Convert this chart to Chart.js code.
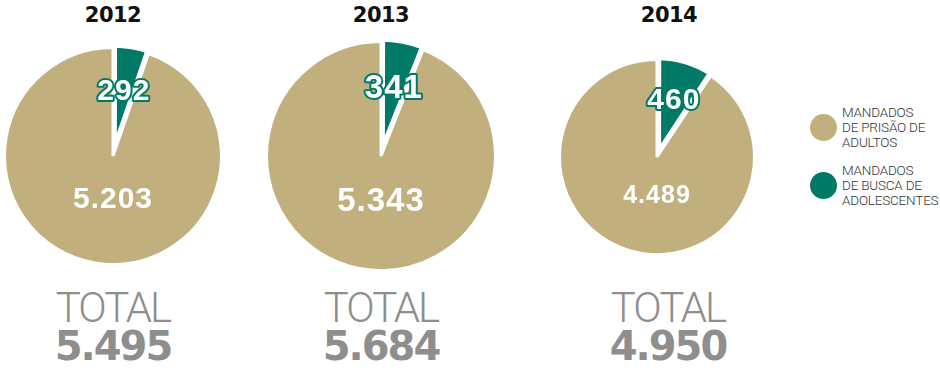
<!DOCTYPE html>
<html>
<head>
<meta charset="utf-8">
<script src="https://cdn.jsdelivr.net/npm/chart.js@4.4.1/dist/chart.umd.min.js"></script>
<style>
  html, body { margin: 0; padding: 0; background: #fff; }
  #wrap { position: relative; width: 940px; height: 371px; overflow: hidden; }
  #wrap canvas { position: absolute; }
  .year { position: absolute; width: 120px; text-align: center; font: bold 21px 'DejaVu Sans', sans-serif; color: #111; letter-spacing: -0.5px; }
  .total { position: absolute; width: 180px; text-align: center; color: #8e8e8e; }
  .total .lbl { font: 300 42px Roboto, sans-serif; letter-spacing: -2px; line-height: 40px; }
  .total .num { font: bold 40px 'DejaVu Sans', sans-serif; letter-spacing: -2px; line-height: 36px; }
  .legend { position: absolute; left: 810px; font: 300 13.5px Roboto, sans-serif; color: #333; line-height: 15px; letter-spacing: -0.2px; }
  .legend .dot { position: absolute; left: 0; width: 27px; height: 27px; border-radius: 50%; }
  .legend .txt { position: absolute; left: 32px; white-space: nowrap; }
</style>
</head>
<body>
<div id="wrap"></div>
<script>
// data
const years = ['2012', '2013', '2014'];
const adultos = [5203, 5343, 4489];        // mandados de prisão de adultos
const adolescentes = [292, 341, 460];      // mandados de busca de adolescentes
const totals = [5495, 5684, 4950];
const seriesNames = ['MANDADOS\nDE BUSCA DE\nADOLESCENTES', 'MANDADOS\nDE PRISÃO DE\nADULTOS'];

// look
const TAN = '#c1af7e';
const TEAL = '#007a67';
const pies = [
  { cx: 113, cy: 155.5, r: 107, tealFont: 30, tanFont: 30, titleX: 113, totalX: 113 },
  { cx: 381, cy: 155.5, r: 113, tealFont: 33, tanFont: 33, titleX: 381, totalX: 381 },
  { cx: 657, cy: 156.5, r: 96, tealFont: 30, tanFont: 25, titleX: 669, totalX: 668 }
];
const SIZE = 250;

function fmt(v) {
  return String(v).replace(/\B(?=(\d{3})+(?!\d))/g, '.');
}

const sliceLabels = {
  id: 'sliceLabels',
  afterDatasetsDraw(chart, args, opts) {
    const ctx = chart.ctx;
    const meta = chart.getDatasetMeta(0);
    const values = chart.data.datasets[0].data;
    meta.data.forEach((arc, i) => {
      const p = arc.getProps(['x', 'y', 'startAngle', 'endAngle', 'outerRadius'], true);
      const mid = (p.startAngle + p.endAngle) / 2;
      let x, y;
      if (i === 0) {
        x = p.x + Math.cos(mid) * p.outerRadius * 0.6;
        y = p.y + Math.sin(mid) * p.outerRadius * 0.6;
      } else {
        x = p.x;
        y = p.y + p.outerRadius * 0.4;
      }
      ctx.save();
      ctx.textAlign = 'center';
      ctx.textBaseline = 'middle';
      ctx.letterSpacing = '1px';
      ctx.font = 'bold ' + (i === 0 ? opts.tealFont : opts.tanFont) + "px 'Liberation Sans', Arial, sans-serif";
      const txt = fmt(values[i]);
      if (i === 0) {
        ctx.lineJoin = 'round';
        ctx.lineWidth = 4;
        ctx.strokeStyle = TEAL;
        ctx.strokeText(txt, x, y);
      }
      ctx.fillStyle = '#fff';
      ctx.fillText(txt, x, y);
      ctx.restore();
    });
  }
};

const wrap = document.getElementById('wrap');

years.forEach((yr, k) => {
  const cfg = pies[k];
  const cv = document.createElement('canvas');
  cv.width = SIZE;
  cv.height = SIZE;
  cv.style.left = (cfg.cx - SIZE / 2) + 'px';
  cv.style.top = (cfg.cy - SIZE / 2) + 'px';
  wrap.appendChild(cv);

  new Chart(cv.getContext('2d'), {
    type: 'pie',
    data: {
      labels: [seriesNames[0], seriesNames[1]],
      datasets: [{
        data: [adolescentes[k], adultos[k]],
        backgroundColor: [TEAL, TAN],
        borderColor: '#fff',
        borderWidth: [7, 3],
        offset: [8, 0]
      }]
    },
    options: {
      responsive: false,
      animation: false,
      radius: cfg.r + 1.5,
      events: [],
      layout: { padding: 0 },
      plugins: {
        legend: { display: false },
        tooltip: { enabled: false },
        sliceLabels: { tealFont: cfg.tealFont, tanFont: cfg.tanFont }
      }
    },
    plugins: [sliceLabels]
  });

  const t = document.createElement('div');
  t.className = 'year';
  t.textContent = yr;
  t.style.left = (cfg.titleX - 60) + 'px';
  t.style.top = '3px';
  wrap.appendChild(t);

  const tot = document.createElement('div');
  tot.className = 'total';
  tot.style.left = (cfg.totalX - 90) + 'px';
  tot.style.top = '288px';
  tot.innerHTML = '<div class="lbl">TOTAL</div><div class="num">' + fmt(totals[k]) + '</div>';
  wrap.appendChild(tot);
});

// legend
const legendItems = [
  { name: seriesNames[1], color: TAN, y: 113 },
  { name: seriesNames[0], color: TEAL, y: 171 }
];
legendItems.forEach(it => {
  const lg = document.createElement('div');
  lg.className = 'legend';
  lg.style.top = it.y + 'px';
  lg.innerHTML = '<div class="dot" style="top:1px;background:' + it.color + '"></div>' +
    '<div class="txt" style="top:-8px">' + it.name.split('\n').join('<br>') + '</div>';
  wrap.appendChild(lg);
});
</script>
</body>
</html>
